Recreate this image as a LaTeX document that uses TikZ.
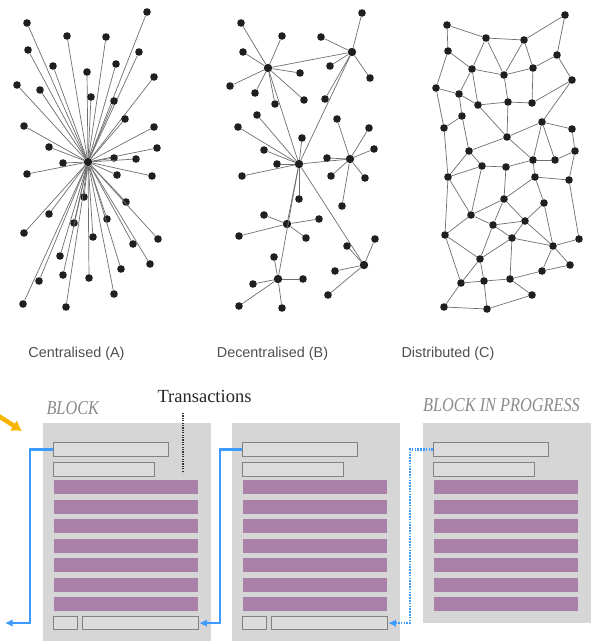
\documentclass[tikz,border=0pt]{standalone}
\usepackage{fontspec}
\setmainfont{Liberation Serif}
\newfontfamily\labelfont{Liberation Sans}
\usetikzlibrary{arrows.meta}

\definecolor{blockgray}{HTML}{D6D6D6}
\definecolor{barfill}{HTML}{DCDCDC}
\definecolor{barline}{HTML}{828282}
\definecolor{txpurple}{HTML}{A980A8}
\definecolor{linkblue}{HTML}{3D9BFF}
\definecolor{incoming}{HTML}{F7B500}
\definecolor{labelgray}{HTML}{4E4E4E}
\definecolor{titlegray}{HTML}{8A8A8A}
\definecolor{wire}{HTML}{6E6E6E}

\tikzset{
  dot/.style={circle, fill=black!88, inner sep=0pt, minimum size=7.6pt},
  hubdot/.style={dot, minimum size=8.4pt},
  wireline/.style={draw=wire, line width=0.7pt},
  netlabel/.style={anchor=base, text=labelgray, font=\labelfont\fontsize{14.4}{16}\selectfont},
  blocktitle/.style={anchor=base, text=titlegray, font=\itshape\fontsize{16.3}{18}\selectfont},
  txtitle/.style={anchor=base, text=black!85, font=\fontsize{18.5}{20}\selectfont},
  blockbg/.style={fill=blockgray, anchor=north west, inner sep=0pt, minimum width=168pt},
  hdr/.style={fill=barfill, draw=barline, line width=1.3pt, anchor=north west, inner sep=0pt, minimum height=13.5pt},
  txbar/.style={fill=txpurple, anchor=north west, inner sep=0pt, minimum width=144pt, minimum height=14pt},
  link/.style={draw=linkblue, line width=2.2pt, -{Latex[length=7.5pt,width=7.5pt]}},
}

\begin{document}
\begin{tikzpicture}[x=1pt, y=-1pt]
\useasboundingbox (0,0) rectangle (591,641);

% ---------- Centralised network: one hub, every node wired to it ----------
\node[hubdot] (A0) at (88,162) {};
\foreach \i/\x/\y in {1/147/12, 2/27/23, 3/67/36, 4/106/37, 5/28/50, 6/139/52,
  7/53/66, 8/116/64, 9/87/72, 10/154/77, 11/17/85, 12/40/90, 13/91/97,
  14/114/101, 15/125/119, 16/24/126, 17/154/127, 18/49/147, 19/157/148,
  20/114/158, 21/136/159, 22/63/163, 23/27/174, 24/117/175, 25/152/176,
  26/84/197, 27/126/202, 28/49/214, 29/107/219, 30/74/223, 31/24/233,
  32/158/239, 33/93/237, 34/133/244, 35/60/256, 36/150/264, 37/121/269,
  38/63/275, 39/89/278, 40/39/281, 41/114/294, 42/23/304, 43/66/307} {
  \node[dot] (A\i) at (\x,\y) {};
  \draw[wireline] (A0) -- (A\i);
}

% ---------- Decentralised network: several hubs with their own leaves ----------
\node[hubdot] (B1) at (268,68) {};
\node[hubdot] (B2) at (352,52) {};
\node[hubdot] (B3) at (299,164) {};
\node[hubdot] (B4) at (350,159) {};
\node[hubdot] (B5) at (287,224) {};
\node[hubdot] (B6) at (364,265) {};
\node[hubdot] (B7) at (278,279) {};
\foreach \a/\b in {B1/B2, B1/B3, B2/B3, B3/B4, B3/B5, B3/B6, B3/B7}
  \draw[wireline] (\a) -- (\b);
\foreach \i/\p/\x/\y in {
  1/B1/241/23, 2/B1/282/36, 3/B1/243/52, 4/B1/230/86, 5/B1/255/93,
  6/B1/275/104, 7/B1/300/73, 8/B1/304/100,
  9/B2/362/13, 10/B2/321/37, 11/B2/330/66, 12/B2/370/78, 13/B2/325/99,
  14/B3/257/115, 15/B3/238/127, 16/B3/302/138, 17/B3/264/150,
  18/B3/277/164, 19/B3/242/176, 20/B3/299/199,
  21/B4/337/119, 22/B4/369/128, 23/B4/374/149, 24/B4/327/158,
  25/B4/331/176, 26/B4/365/178, 27/B4/342/206,
  28/B5/264/215, 29/B5/319/219, 30/B5/239/236, 31/B5/306/238,
  32/B6/375/239, 33/B6/347/246, 34/B6/335/271, 35/B6/328/295,
  36/B7/274/257, 37/B7/253/284, 38/B7/303/279, 39/B7/239/306, 40/B7/282/308} {
  \node[dot] (b\i) at (\x,\y) {};
  \draw[wireline] (\p) -- (b\i);
}

% ---------- Distributed network: a mesh ----------
\foreach \i/\x/\y in {1/447/25, 2/565/15, 3/486/38, 4/524/40, 5/448/51,
  6/557/55, 7/472/69, 8/504/75, 9/533/68, 10/572/80, 11/436/88, 12/459/94,
  13/478/105, 14/508/102, 15/532/103, 16/462/116, 17/542/122, 18/444/128,
  19/572/129, 20/507/137, 21/469/151, 22/575/151, 23/533/160, 24/555/160,
  25/482/166, 26/506/167, 27/448/177, 28/535/177, 29/569/180, 30/504/199,
  31/544/203, 32/471/215, 33/493/225, 34/525/221, 35/445/235, 36/512/238,
  37/553/246, 38/579/239, 39/480/259, 40/570/265, 41/542/271, 42/461/283,
  43/484/281, 44/510/279, 45/532/295, 46/444/307, 47/487/309}
  \node[dot] (C\i) at (\x,\y) {};
\foreach \a/\b in {1/3, 3/4, 4/2, 2/6, 1/5, 5/7, 3/7, 3/8, 4/8, 4/9, 7/8,
  8/9, 9/6, 6/10, 5/11, 11/12, 7/12, 7/13, 12/16, 12/13, 13/14, 14/15,
  8/14, 9/15, 15/10, 10/17, 17/19, 19/22, 11/18, 16/18, 16/21, 13/20,
  14/20, 17/20, 20/21, 20/23, 17/23, 17/24, 23/24, 24/22, 22/29, 18/27,
  21/27, 21/25, 25/26, 26/23, 23/28, 28/29, 26/30, 25/27, 25/32, 27/32,
  28/30, 28/31, 29/38, 30/32, 30/33, 30/34, 31/34, 31/37, 32/33, 33/34,
  32/35, 27/35, 33/36, 34/36, 34/37, 36/37, 37/38, 37/40, 35/39, 35/42,
  36/39, 36/44, 33/39, 39/42, 39/43, 42/43, 43/44, 44/41, 41/40, 41/37,
  44/45, 42/46, 46/47, 43/47, 47/45}
  \draw[wireline] (C\a) -- (C\b);

% ---------- Network captions ----------
\node[netlabel] (capA) at (76.5,357) {Centralised (A)};
\node[netlabel] (capB) at (272.5,357) {Decentralised (B)};
\node[netlabel] (capC) at (448,357) {Distributed (C)};

% ---------- Chain of blocks ----------
\node[blockbg, minimum height=218pt] (blkA) at (43,423) {};
\node[blockbg, minimum height=218pt] (blkB) at (232,423) {};
\node[blockbg, minimum height=200pt] (blkC) at (423,423) {};

\foreach \k/\x in {A/43, B/232, C/423} {
  \node[hdr, minimum width=115pt] (hdr\k) at (\x+10,442) {};
  \node[hdr, minimum width=101pt] (sub\k) at (\x+10,462) {};
  \foreach \r in {0,...,6}
    \node[txbar] (tx\k\r) at (\x+11,480+19.5*\r) {};
}
\foreach \k/\x in {A/43, B/232} {
  \node[hdr, minimum width=24pt, minimum height=13pt] (nonce\k) at (\x+10,616) {};
  \node[hdr, minimum width=116pt, minimum height=13pt] (prev\k) at (\x+39,616) {};
}

% block titles
\node[blocktitle, anchor=base west] (titleA) at (43,414) {\scalebox{1}[1.2]{BLOCK}};
\node[blocktitle] (titleC) at (501.5,411) {\scalebox{1}[1.2]{BLOCK IN PROGRESS}};

% transactions marker
\node[txtitle] (txlabel) at (204.5,402) {Transactions};
\coordinate (tickTop) at (183,413);
\coordinate (tickBot) at (183,473);
\draw[black!80, line width=1.3pt, dash pattern=on 1.2pt off 1.2pt] (tickTop) -- (tickBot);

% hash links between blocks
\coordinate (offLeft) at (5,623);
\draw[link] (hdrA.west) -- ++(-23,0) |- (offLeft);
\draw[link] (hdrB.west) -- ++(-22,0) |- (prevA.east);
\draw[link, dash pattern=on 1.6pt off 1.2pt] (hdrC.west) -- ++(-23,0) |- (prevB.east);

% incoming arrow
\coordinate (inStart) at (-6,413);
\coordinate (inEnd) at (22,431);
\draw[incoming, line width=4.5pt, -{Latex[length=10pt,width=13pt]}] (inStart) -- (inEnd);
\end{tikzpicture}
\end{document}
